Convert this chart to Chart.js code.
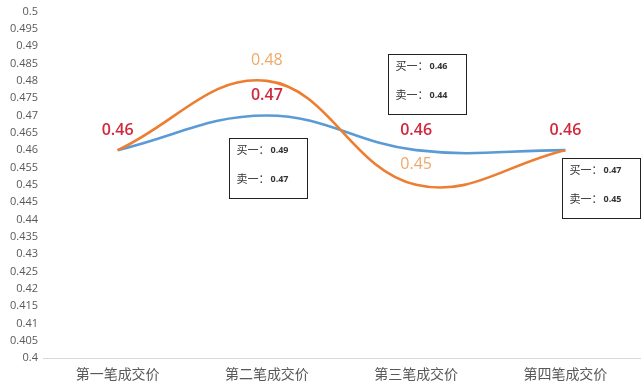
<!DOCTYPE html>
<html>
<head>
<meta charset="utf-8">
<script src="https://cdn.jsdelivr.net/npm/chart.js@4"></script>
<style>
html,body{margin:0;padding:0;background:#fff;}
#wrap{width:643px;height:382px;position:relative;}
</style>
</head>
<body>
<div id="wrap"><canvas id="c" width="643" height="382"></canvas></div>
<script>
// ---- data ----
const categories = ['第一笔成交价', '第二笔成交价', '第三笔成交价', '第四笔成交价'];
const blueSeries = [0.46, 0.47, 0.46, 0.46];
const orangeSeries = [0.46, 0.48, 0.45, 0.46];
const orangeLabelShown = [false, true, true, false];
const bidLabel = '买一：';
const askLabel = '卖一：';
const bidValues = [null, 0.49, 0.46, 0.47];
const askValues = [null, 0.47, 0.44, 0.45];
const yMin = 0.4, yMax = 0.5, yStep = 0.005;

// ---- layout for annotation boxes (pixel offsets from blue point) ----
const boxOffsets = [null, {dx:-38, dy:22}, {dx:-28, dy:-96}, {dx:-3, dy:8}];
const BOX_W = 78, BOX_H = 60;

const numFont = '"Open Sans", "Liberation Sans", sans-serif';
const cjkFont = '"Noto Sans CJK SC", "Noto Sans", sans-serif';

const labelPlugin = {
  id: 'labels',
  afterDatasetsDraw(chart) {
    const ctx = chart.ctx;
    const xs = chart.scales.x, ys = chart.scales.y;
    ctx.save();
    ctx.textAlign = 'center';
    ctx.textBaseline = 'middle';
    // orange labels
    ctx.font = '16px ' + numFont;
    ctx.fillStyle = '#f0a868';
    orangeSeries.forEach((v, i) => {
      if (!orangeLabelShown[i]) return;
      ctx.fillText(v.toFixed(2), xs.getPixelForValue(i), ys.getPixelForValue(v) - 20);
    });
    // blue series labels (red)
    ctx.font = '600 16px ' + numFont;
    ctx.fillStyle = '#d0283c';
    blueSeries.forEach((v, i) => {
      ctx.fillText(v.toFixed(2), xs.getPixelForValue(i), ys.getPixelForValue(v) - 20);
    });
    // annotation boxes
    bidValues.forEach((b, i) => {
      if (b === null) return;
      const off = boxOffsets[i];
      const px = Math.round(xs.getPixelForValue(i) + off.dx) + 0.5;
      const py = Math.round(ys.getPixelForValue(blueSeries[i]) + off.dy) + 0.5;
      ctx.fillStyle = '#ffffff';
      ctx.fillRect(px, py, BOX_W, BOX_H);
      ctx.strokeStyle = '#222';
      ctx.lineWidth = 1;
      ctx.strokeRect(px, py, BOX_W, BOX_H);
      ctx.textAlign = 'left';
      ctx.fillStyle = '#333';
      const lines = [[bidLabel, b], [askLabel, askValues[i]]];
      lines.forEach((ln, k) => {
        const ty = py + 11 + k * 29;
        ctx.font = '11px ' + cjkFont;
        ctx.fillText(ln[0], px + 7, ty);
        ctx.font = 'bold 9px ' + numFont;
        ctx.fillText(ln[1].toFixed(2), px + 41, ty + 1);
      });
    });
    ctx.restore();
  }
};

new Chart(document.getElementById('c'), {
  type: 'line',
  data: {
    labels: categories,
    datasets: [
      { data: orangeSeries, borderColor: '#ed7d31', borderWidth: 2.6, pointRadius: 0, tension: 0.4, fill: false },
      { data: blueSeries, borderColor: '#5b9bd5', borderWidth: 2.6, pointRadius: 0, tension: 0.4, fill: false }
    ]
  },
  options: {
    responsive: false,
    animation: false,
    events: [],
    layout: { padding: { top: 9, right: 3, left: 0, bottom: 0 } },
    plugins: { legend: { display: false }, tooltip: { enabled: false } },
    scales: {
      x: {
        offset: true,
        grid: { display: false, drawTicks: false },
        border: { display: true, color: '#d9d9d9', width: 1 },
        ticks: { color: '#595959', font: { size: 14, family: cjkFont }, padding: 7, maxRotation: 0 },
        afterFit(s) { s.height = 24; }
      },
      y: {
        min: yMin, max: yMax,
        grid: { display: false, drawTicks: false },
        border: { display: false },
        ticks: {
          stepSize: yStep, autoSkip: false, color: '#595959', padding: 5,
          font: { size: 11, family: numFont },
          callback: v => String(+(+v).toFixed(3))
        },
        afterFit(s) { s.width = 43; }
      }
    }
  },
  plugins: [labelPlugin]
});
</script>
</body>
</html>
